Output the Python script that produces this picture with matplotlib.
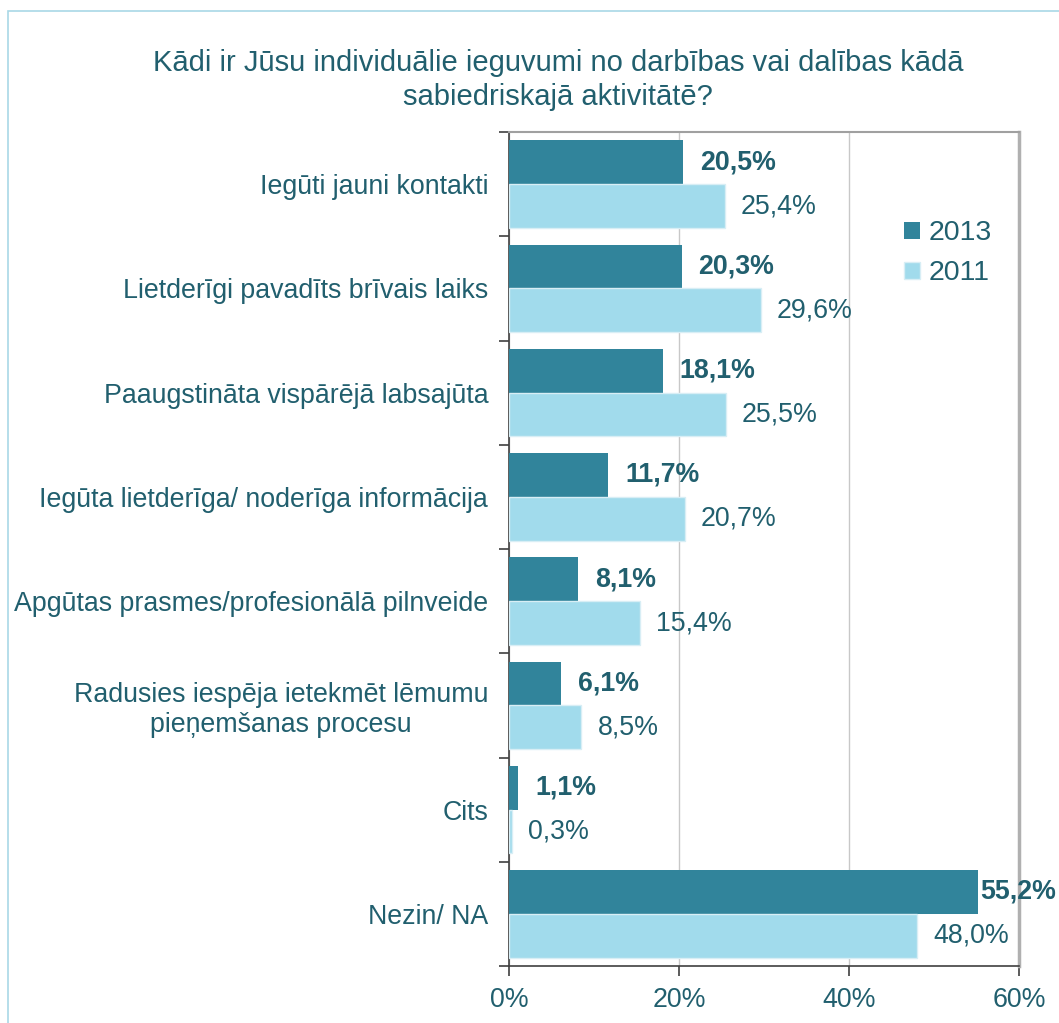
import matplotlib.pyplot as plt
from matplotlib.patches import Rectangle

categories = [
    'Iegūti jauni kontakti',
    'Lietderīgi pavadīts brīvais laiks',
    'Paaugstināta vispārējā labsajūta',
    'Iegūta lietderīga/ noderīga informācija',
    'Apgūtas prasmes/profesionālā pilnveide',
    'Radusies iespēja ietekmēt lēmumu\npieņemšanas procesu',
    'Cits',
    'Nezin/ NA',
]
values_2013 = [20.5, 20.3, 18.1, 11.7, 8.1, 6.1, 1.1, 55.2]
values_2011 = [25.4, 29.6, 25.5, 20.7, 15.4, 8.5, 0.3, 48.0]
x_ticks = [0, 20, 40, 60]
title = 'Kādi ir Jūsu individuālie ieguvumi no darbības vai dalības kādā\nsabiedriskajā aktivitātē?'

dark = '#31849b'
light = '#a1dbec'
text_col = '#215f6e'
fs = 19.3

plt.rcParams['font.family'] = ['Liberation Sans', 'DejaVu Sans']

fig = plt.figure(figsize=(10.59, 10.23), dpi=100)
ax = fig.add_axes([509 / 1059, 1 - 966 / 1023, 510 / 1059, 834 / 1023])

n = len(categories)
bar_h = 0.42
ys = list(range(n))
y_dark = [y - bar_h / 2 for y in ys]
y_light = [y + bar_h / 2 for y in ys]

ax.barh(y_dark, values_2013, height=bar_h, color=dark, label='2013', zorder=3)
ax.barh(y_light, values_2011, height=bar_h, color=light, edgecolor='#d8eef5',
        linewidth=1, label='2011', zorder=3)

for y, v in zip(y_dark, values_2013):
    off = 0.2 if v > 50 else 2.0
    ax.text(v + off, y, f'{v:.1f}%'.replace('.', ','), va='center', ha='left',
            fontsize=fs, fontweight='bold', color=text_col, zorder=4, clip_on=False)
for y, v in zip(y_light, values_2011):
    ax.text(v + 1.9, y, f'{v:.1f}%'.replace('.', ','), va='center', ha='left',
            fontsize=fs, color=text_col, zorder=4)

ax.set_xlim(0, 60)
ax.set_ylim(n - 0.5, -0.5)
ax.set_xticks(x_ticks)
ax.set_xticklabels([f'{t}%' for t in x_ticks], fontsize=fs, color=text_col)
ax.xaxis.grid(True, color='#c8c8c8', linewidth=1, zorder=0)

# category ticks sit at group boundaries, labels at group centres
ax.set_yticks([y + 0.5 for y in ys[:-1]] + [-0.5, n - 0.5])
ax.set_yticklabels([])
ax.set_yticks(ys, minor=True)
ax.set_yticklabels(categories, minor=True, fontsize=fs, color=text_col,
                   multialignment='center')
ax.tick_params(axis='y', which='minor', length=0, pad=15)
ax.tick_params(axis='y', which='major', length=7, width=1.2, color='#404040', direction='out')
ax.tick_params(axis='x', length=7, width=1.2, color='#404040', direction='out', pad=8)

for s in ['left', 'bottom']:
    ax.spines[s].set_color('#404040')
    ax.spines[s].set_linewidth(1.2)
ax.spines['right'].set_color('#b0b0b0')
ax.spines['right'].set_linewidth(2.5)
ax.spines['top'].set_color('#a0a0a0')
ax.spines['top'].set_linewidth(1.5)

ax.legend(loc='upper left', bbox_to_anchor=(890 / 1059, 1 - 206 / 1023),
          bbox_transform=fig.transFigure, frameon=False, fontsize=20.5,
          handlelength=0.55, handleheight=0.55, handletextpad=0.3,
          labelspacing=0.5, borderpad=0, labelcolor=text_col)

fig.text(558 / 1059, 1 - 80 / 1023, title, ha='center', va='center',
         fontsize=21, color=text_col, linespacing=1.25)

fig.patches.append(Rectangle((8 / 1059, -0.05), 1.0, 1.05 - 11 / 1023,
                             transform=fig.transFigure, fill=False,
                             edgecolor='#a9d8e6', linewidth=1.2))

fig.savefig('out.png', dpi=100)
